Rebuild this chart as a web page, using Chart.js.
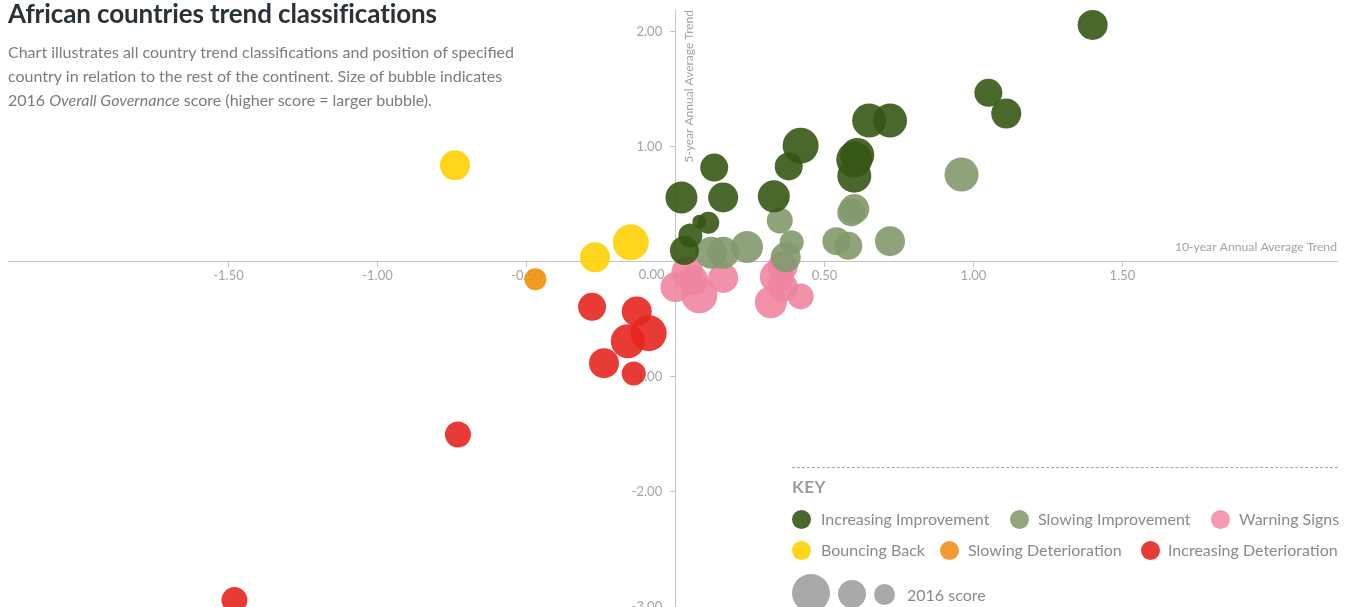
<!DOCTYPE html>
<html>
<head>
<meta charset="utf-8">
<script src="https://cdn.jsdelivr.net/npm/chart.js@4.4.1/dist/chart.umd.min.js"></script>
<style>
  html, body { margin:0; padding:0; width:1359px; height:607px; overflow:hidden; background:#fff; font-family: Lato, "Open Sans", sans-serif; }
  #wrap { position:absolute; left:0; top:0; width:1359px; height:620px; }
  #title { position:absolute; left:8px; top:-3px; font-weight:700; font-size:26px; line-height:32px; color:#2b3237; white-space:nowrap; letter-spacing:-0.1px; }
  #sub { position:absolute; left:8px; top:40px; font-size:16px; line-height:24px; color:#7b7b7b; white-space:nowrap; }
  #dash { position:absolute; left:792px; top:467px; width:546px; height:0; border-top:1px dashed #a8a8a8; }
  #keyt { position:absolute; left:792px; top:476px; font-size:17px; line-height:22px; font-weight:700; color:#9b9b9b; letter-spacing:0.5px; }
  .dot { position:absolute; border-radius:50%; }
  .lt { position:absolute; font-size:16px; line-height:20px; color:#8a8a8a; white-space:nowrap; }
</style>
</head>
<body>
<div id="wrap"><canvas id="c" width="1359" height="620"></canvas></div>
<div id="title">African countries trend classifications</div>
<div id="sub">Chart illustrates all country trend classifications and position of specified<br>country in relation to the rest of the continent. Size of bubble indicates<br>2016 <i>Overall Governance</i> score (higher score = larger bubble).</div>
<div id="dash"></div>
<div id="keyt">KEY</div>
<div id="legend"></div>
<script>
// ---- Data (10-year trend = x, 5-year trend = y, 2016 score = size) ----
const seriesNames = ['Increasing Improvement','Slowing Improvement','Warning Signs','Bouncing Back','Slowing Deterioration','Increasing Deterioration'];

const incImpX     = [1.40, 1.05, 1.11, 0.65, 0.72, 0.61, 0.60, 0.60, 0.13, 0.02, 0.16, 0.33, 0.38, 0.42, 0.08, 0.11, 0.05, 0.03];
const incImpY     = [2.06, 1.47, 1.29, 1.23, 1.23, 0.93, 0.89, 0.75, 0.82, 0.56, 0.56, 0.57, 0.83, 1.01, 0.35, 0.34, 0.23, 0.10];
const incImpScore = [60, 56, 60, 68, 68, 68, 72, 68, 56, 64, 60, 64, 56, 72, 28, 44, 48, 58];

const slowImpX     = [0.96, 0.60, 0.59, 0.72, 0.35, 0.39, 0.37, 0.24, 0.16, 0.12, 0.54, 0.58];
const slowImpY     = [0.76, 0.46, 0.43, 0.18, 0.36, 0.17, 0.04, 0.13, 0.08, 0.08, 0.18, 0.14];
const slowImpScore = [68, 60, 56, 60, 52, 48, 60, 64, 64, 64, 56, 56];

const warnX     = [0.04, 0.06, 0.00, 0.08, 0.16, 0.36, 0.34, 0.36, 0.42, 0.32];
const warnY     = [-0.09, -0.16, -0.22, -0.29, -0.14, -0.04, -0.13, -0.22, -0.30, -0.35];
const warnScore = [64, 60, 60, 72, 60, 60, 68, 60, 52, 64];

const bounceX     = [-0.74, -0.27, -0.15];
const bounceY     = [0.84, 0.04, 0.17];
const bounceScore = [60, 60, 72];

const slowDetX     = [-0.47];
const slowDetY     = [-0.15];
const slowDetScore = [44];

const incDetX     = [-0.28, -0.13, -0.09, -0.16, -0.24, -0.14, -0.73, -1.48];
const incDetY     = [-0.39, -0.43, -0.62, -0.69, -0.88, -0.97, -1.50, -2.94];
const incDetScore = [56, 60, 72, 68, 60, 48, 52, 52];

const xTicks = [-1.5, -1.0, -0.5, 0, 0.5, 1.0, 1.5];
const yTicks = [2, 1, 0, -1, -2, -3];

// ---- Styles ----
const fills  = ['rgba(54,86,21,0.9)','rgba(130,153,107,0.9)','rgba(240,133,161,0.9)','rgba(254,208,3,0.9)','rgba(244,143,8,0.9)','rgba(229,38,31,0.9)'];
const swatch = ['#4a672c','#95a57e','#f49bb1','#fed51c','#f59a33','#e73c36'];
const radiusFor = s => s / 4;

function pts(xs, ys, ss) { return xs.map((x, i) => ({ x: x, y: ys[i], r: radiusFor(ss[i]) })); }

const allSeries = [
  [incImpX, incImpY, incImpScore],
  [slowImpX, slowImpY, slowImpScore],
  [warnX, warnY, warnScore],
  [bounceX, bounceY, bounceScore],
  [slowDetX, slowDetY, slowDetScore],
  [incDetX, incDetY, incDetScore]
];

const datasets = allSeries.map((s, i) => ({
  label: seriesNames[i],
  data: pts(s[0], s[1], s[2]),
  backgroundColor: fills[i],
  borderWidth: 0,
  hoverBorderWidth: 0,
  clip: 30
}));

const axisText = {
  id: 'axisText',
  beforeDatasetsDraw(chart) {
    const { ctx, scales: { x, y } } = chart;
    const x0 = x.getPixelForValue(0), y0 = y.getPixelForValue(0);
    ctx.save();
    ctx.fillStyle = '#a3a3a3';
    ctx.font = '13px Lato';
    ctx.textAlign = 'right'; ctx.textBaseline = 'middle';
    ctx.fillText('0.00', x0 - 11, y0 + 13);
    ctx.font = '12.2px Lato';
    ctx.textAlign = 'right'; ctx.textBaseline = 'bottom';
    ctx.fillText('10-year Annual Average Trend', x.right, y0 - 9);
    ctx.font = '12px Lato';
    ctx.translate(x0 + 14, y.top);
    ctx.rotate(-Math.PI / 2);
    ctx.textAlign = 'right'; ctx.textBaseline = 'middle';
    ctx.fillText('5-year Annual Average Trend', 0, 0);
    ctx.restore();
  }
};

const axisColor = '#c4c4c4';
const tickFont = { family: 'Lato', size: 13 };

new Chart(document.getElementById('c'), {
  type: 'bubble',
  data: { datasets },
  options: {
    responsive: false,
    animation: false,
    events: [],
    layout: { autoPadding: false, padding: { left: 8, right: 22, top: 10, bottom: 13 } },
    plugins: { legend: { display: false }, tooltip: { enabled: false } },
    scales: {
      x: {
        type: 'linear', min: -2.24, max: 2.22,
        position: { y: 0 },
        afterFit(s) { s.height = 0; s.paddingLeft = 0; s.paddingRight = 0; s.paddingTop = 0; s.paddingBottom = 0; },
        afterBuildTicks(s) { s.ticks = xTicks.map(v => ({ value: v })); },
        ticks: { color: '#a3a3a3', font: tickFont, padding: 1, autoSkip: false, maxRotation: 0,
                 callback: v => v === 0 ? '' : v.toFixed(2) },
        grid: { drawOnChartArea: false, drawTicks: true, tickLength: 5, color: axisColor },
        border: { color: axisColor, width: 1 }
      },
      y: {
        type: 'linear', min: -3.0, max: 2.19,
        position: { x: 0 },
        afterFit(s) { s.width = 0; s.paddingLeft = 0; s.paddingRight = 0; s.paddingTop = 0; s.paddingBottom = 0; },
        afterBuildTicks(s) { s.ticks = yTicks.map(v => ({ value: v })); },
        ticks: { color: '#a3a3a3', font: tickFont, autoSkip: false,
                 callback: v => v === 0 ? '' : v.toFixed(2) + '\u00a0\u00a0\u00a0\u00a0' },
        grid: { drawOnChartArea: false, drawTicks: true, tickLength: 5, color: axisColor },
        border: { color: axisColor, width: 1 }
      }
    }
  },
  plugins: [axisText]
});

// ---- Key (HTML) ----
const legend = document.getElementById('legend');
const keyPos = [
  { dx: 801, tx: 821, cy: 519 }, { dx: 1019, tx: 1038, cy: 519 }, { dx: 1220, tx: 1239, cy: 519 },
  { dx: 801, tx: 821, cy: 550 }, { dx: 949, tx: 968, cy: 550 }, { dx: 1150, tx: 1168, cy: 550 }
];
keyPos.forEach((p, i) => {
  const d = document.createElement('div');
  d.className = 'dot';
  d.style.cssText += `left:${p.dx - 9.5}px;top:${p.cy - 9.5}px;width:19px;height:19px;background:${swatch[i]};`;
  legend.appendChild(d);
  const t = document.createElement('div');
  t.className = 'lt';
  t.style.left = p.tx + 'px'; t.style.top = (p.cy - 10) + 'px';
  t.textContent = seriesNames[i];
  legend.appendChild(t);
});
[[811, 593, 19], [852, 594, 14], [884, 594, 10.5]].forEach(c => {
  const d = document.createElement('div');
  d.className = 'dot';
  d.style.cssText += `left:${c[0] - c[2]}px;top:${c[1] - c[2]}px;width:${2 * c[2]}px;height:${2 * c[2]}px;background:#a9a9a9;`;
  legend.appendChild(d);
});
const sc = document.createElement('div');
sc.className = 'lt'; sc.style.left = '907px'; sc.style.top = '585px'; sc.textContent = '2016 score';
legend.appendChild(sc);
</script>
</body>
</html>
